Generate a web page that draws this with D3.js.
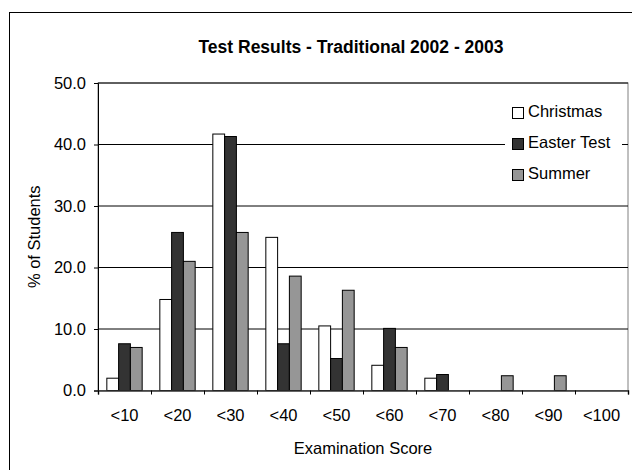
<!DOCTYPE html>
<html>
<head>
<meta charset="utf-8">
<script src="https://cdn.jsdelivr.net/npm/d3@7"></script>
<style>
  body { margin: 0; background: #fff; }
  svg { display: block; font-family: Arial, "Liberation Sans", sans-serif; }
</style>
</head>
<body>
<div id="chart-container"></div>
<script>
// Categories (score bands) and the three test series
const categories = ["<10", "<20", "<30", "<40", "<50", "<60", "<70", "<80", "<90", "<100"];
const seriesNames = ["Christmas", "Easter Test", "Summer"];
const christmas = [2.0, 14.8, 41.7, 24.9, 10.5, 4.1, 2.0, 0, 0, 0];
const easterTest = [7.6, 25.7, 41.3, 7.6, 5.2, 10.1, 2.6, 0, 0, 0];
const summer = [7.0, 21.0, 25.7, 18.6, 16.3, 7.0, 0, 2.4, 2.4, 0];
const yTicks = [0, 10, 20, 30, 40, 50];

const seriesValues = [christmas, easterTest, summer];
const fills = ["#ffffff", "#333333", "#969696"];

const width = 632, height = 470;
const plot = { left: 98, right: 628, top: 83, bottom: 390.5 };

const svg = d3.select("#chart-container")
    .append("svg")
    .attr("width", width)
    .attr("height", height);

// outer chart border (cut off at the right and bottom, like the reference)
svg.append("rect")
    .attr("x", 9.5).attr("y", 12.5)
    .attr("width", 700).attr("height", 500)
    .attr("fill", "none")
    .attr("stroke", "#000");

// scales
const x0 = d3.scaleBand()
    .domain(categories)
    .range([plot.left, plot.right])
    .paddingInner(1.5 / 4.5)
    .paddingOuter(0.75 / 4.5);

const x1 = d3.scaleBand()
    .domain(seriesNames)
    .range([0, x0.bandwidth()]);

const y = d3.scaleLinear()
    .domain([0, 50])
    .range([plot.bottom, plot.top]);

const xEdges = d3.scaleLinear()
    .domain([0, categories.length])
    .range([plot.left, plot.right]);

// plot area border
svg.append("rect")
    .attr("x", plot.left).attr("y", plot.top)
    .attr("width", plot.right - plot.left)
    .attr("height", plot.bottom - plot.top)
    .attr("fill", "none")
    .attr("stroke", "#808080");

// gridlines
svg.append("g")
    .selectAll("line")
    .data(yTicks.filter(d => d > 0))
    .join("line")
    .attr("x1", plot.left).attr("x2", plot.right)
    .attr("y1", d => y(d)).attr("y2", d => y(d))
    .attr("stroke", "#000")
    .attr("stroke-width", 1);

// bars
const rows = categories.map((c, i) => ({
    cat: c,
    values: seriesNames.map((s, k) => ({ name: s, value: seriesValues[k][i], fill: fills[k] }))
}));

svg.append("g")
    .selectAll("g")
    .data(rows)
    .join("g")
    .attr("transform", d => `translate(${x0(d.cat)},0)`)
    .selectAll("rect")
    .data(d => d.values.filter(v => v.value > 0))
    .join("rect")
    .attr("x", d => x1(d.name))
    .attr("y", d => y(d.value))
    .attr("width", x1.bandwidth())
    .attr("height", d => y(0) - y(d.value))
    .attr("fill", d => d.fill)
    .attr("stroke", "#000")
    .attr("stroke-width", 1);

// y axis
const yAxis = svg.append("g")
    .attr("transform", `translate(${plot.left},0)`)
    .call(d3.axisLeft(y).tickValues(yTicks).tickFormat(d3.format(".1f")).tickSize(4).tickPadding(8));
yAxis.select(".domain").attr("stroke", "#000");
yAxis.selectAll(".tick line").attr("stroke", "#000");
yAxis.selectAll("text")
    .style("font-size", "16.5px")
    .attr("fill", "#000");

// x axis: boundary ticks
const xAxis = svg.append("g")
    .attr("transform", `translate(0,${plot.bottom})`)
    .call(d3.axisBottom(xEdges).tickValues(d3.range(categories.length + 1)).tickFormat("").tickSize(4));
xAxis.select(".domain").attr("stroke", "#333").attr("stroke-width", 1.5);
xAxis.selectAll(".tick line").attr("stroke", "#000");

// x axis: category labels
const xLabels = svg.append("g")
    .attr("transform", `translate(0,${plot.bottom})`)
    .call(d3.axisBottom(x0).tickSize(0).tickPadding(19));
xLabels.select(".domain").remove();
xLabels.selectAll("text")
    .style("font-size", "16.5px")
    .attr("fill", "#000");

// title
svg.append("text")
    .attr("x", 351)
    .attr("y", 53)
    .attr("text-anchor", "middle")
    .style("font-size", "17.5px")
    .style("font-weight", "bold")
    .text("Test Results - Traditional 2002 - 2003");

// axis titles
svg.append("text")
    .attr("x", (plot.left + plot.right) / 2)
    .attr("y", 454)
    .attr("text-anchor", "middle")
    .style("font-size", "16.5px")
    .text("Examination Score");

svg.append("text")
    .attr("transform", `translate(40,${(plot.top + plot.bottom) / 2}) rotate(-90)`)
    .attr("text-anchor", "middle")
    .style("font-size", "16.5px")
    .text("% of Students");

// legend
const legend = svg.append("g")
    .attr("transform", "translate(505,93)");

legend.append("rect")
    .attr("width", 117)
    .attr("height", 96)
    .attr("fill", "#fff");

const legendItem = legend.selectAll("g.item")
    .data(seriesNames)
    .join("g")
    .attr("class", "item")
    .attr("transform", (d, i) => `translate(0,${i * 31})`);

legendItem.append("rect")
    .attr("x", 7.5).attr("y", 14.5)
    .attr("width", 11).attr("height", 11)
    .attr("fill", (d, i) => fills[i])
    .attr("stroke", "#000");

legendItem.append("text")
    .attr("x", 23)
    .attr("y", 24)
    .style("font-size", "16.5px")
    .text(d => d);
</script>
</body>
</html>
